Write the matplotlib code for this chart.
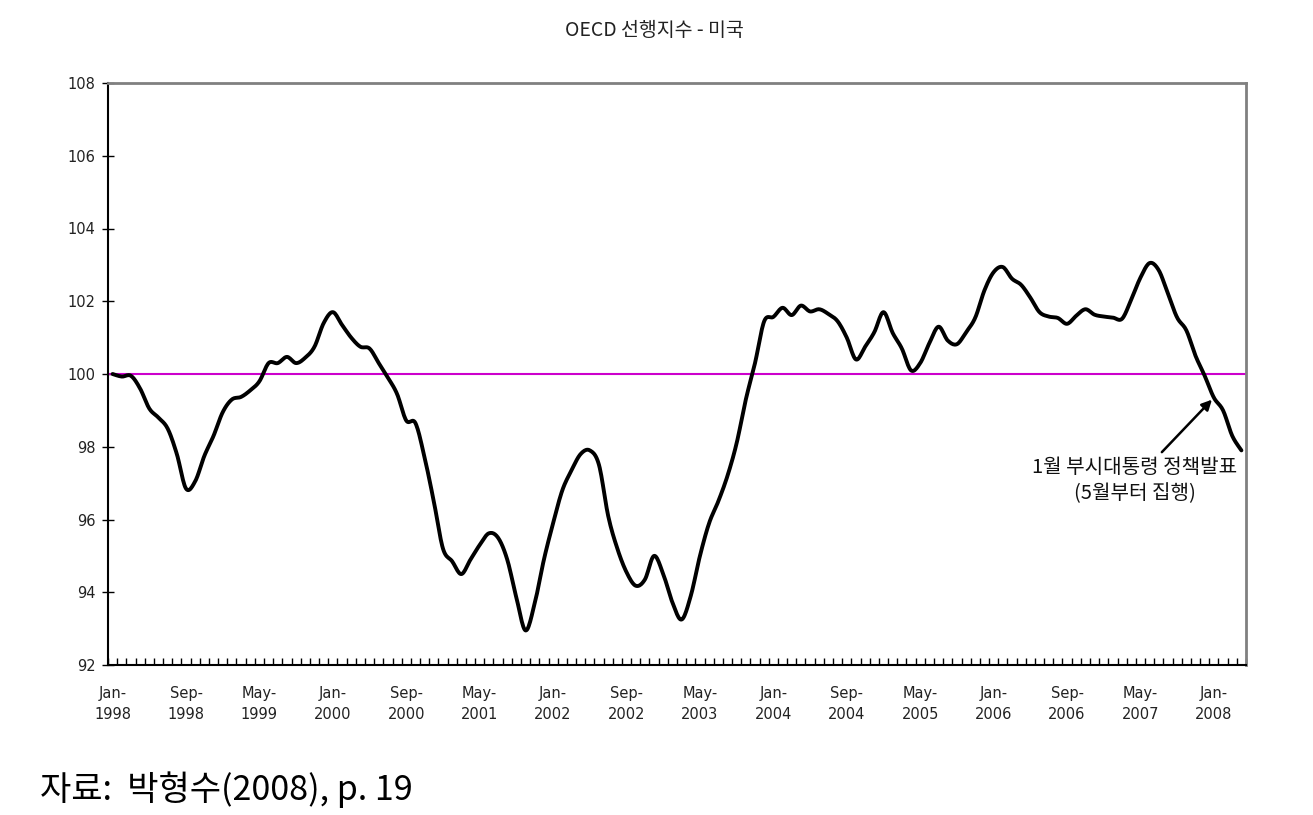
import numpy as np
import matplotlib
matplotlib.use("Agg")
import matplotlib.pyplot as plt

plt.rcParams['font.family'] = ['Noto Sans CJK KR', 'DejaVu Sans']

title = "OECD 선행지수 - 미국"
source_text = "자료:  박형수(2008), p. 19"
annot_text = "1월 부시대통령 정책발표\n(5월부터 집행)"

# Monthly values Jan 1998 .. Apr 2008
values = [
    100.0, 99.93, 99.95, 99.6, 99.05, 98.8, 98.5, 97.8, 96.85, 97.05,
    97.75, 98.3, 98.95, 99.3, 99.37, 99.55, 99.8, 100.3, 100.3, 100.47,
    100.3, 100.45, 100.75, 101.4, 101.7, 101.35, 101.0, 100.75, 100.7, 100.3,
    99.9, 99.45, 98.72, 98.65, 97.7, 96.5, 95.2, 94.85, 94.5, 94.9,
    95.3, 95.62, 95.5, 94.9, 93.85, 92.95, 93.7, 94.9, 95.9, 96.8,
    97.35, 97.8, 97.9, 97.5, 96.1, 95.2, 94.55, 94.18, 94.35, 95.0,
    94.5, 93.72, 93.25, 93.9, 95.0, 95.9, 96.5, 97.2, 98.1, 99.3,
    100.3, 101.45, 101.57, 101.82, 101.62, 101.88, 101.72, 101.78, 101.65, 101.45,
    101.0, 100.4, 100.75, 101.15, 101.7, 101.13, 100.7, 100.1, 100.3, 100.85,
    101.3, 100.92, 100.82, 101.15, 101.55, 102.3, 102.8, 102.94, 102.62, 102.45,
    102.1, 101.7, 101.58, 101.54, 101.38, 101.6, 101.78, 101.63, 101.58, 101.55,
    101.52, 102.05, 102.65, 103.05, 102.85, 102.2, 101.55, 101.2, 100.5, 99.95,
    99.35, 99.0, 98.3, 97.9,
]
tick_labels = ["Jan-\n1998", "Sep-\n1998", "May-\n1999", "Jan-\n2000", "Sep-\n2000",
               "May-\n2001", "Jan-\n2002", "Sep-\n2002", "May-\n2003", "Jan-\n2004",
               "Sep-\n2004", "May-\n2005", "Jan-\n2006", "Sep-\n2006", "May-\n2007",
               "Jan-\n2008"]
baseline = 100
annot_index = 120
annot_value = 99.35

n = len(values)
x = np.arange(n) + 0.5
y = np.array(values)

# Catmull-Rom smoothing (like Excel smoothed line)
def catmull_rom(px, py, steps=12):
    P = np.column_stack([px, py])
    P = np.vstack([P[0], P, P[-1]])
    out = []
    t = np.linspace(0, 1, steps, endpoint=False)
    for i in range(1, len(P) - 2):
        p0, p1, p2, p3 = P[i - 1], P[i], P[i + 1], P[i + 2]
        b1 = p1 + (p2 - p0) / 6
        b2 = p2 - (p3 - p1) / 6
        seg = ((1 - t)[:, None] ** 3 * p1 + 3 * ((1 - t) ** 2 * t)[:, None] * b1
               + 3 * ((1 - t) * t ** 2)[:, None] * b2 + (t ** 3)[:, None] * p2)
        out.append(seg)
    out.append(P[-2][None, :])
    out = np.vstack(out)
    return out[:, 0], out[:, 1]

sx, sy = catmull_rom(x, y)

fig = plt.figure(figsize=(13.13, 8.15), dpi=100)
ax = fig.add_axes([108 / 1313, 1 - 665 / 815, (1246 - 108) / 1313, (665 - 83) / 815])

ax.axhline(baseline, color='#CC00CC', lw=1.5, zorder=2)
ax.plot(sx, sy, color='black', lw=2.8, zorder=3, solid_capstyle='round')

ax.set_xlim(0, n)
ax.set_ylim(92, 108)
ax.set_yticks(np.arange(92, 109, 2))
ax.set_yticklabels([str(v) for v in range(92, 109, 2)], fontsize=10.5, family=['DejaVu Sans'],
                   color='#222222')

ax.set_xticks(np.arange(0, n + 1), minor=True)
ax.set_xticks(np.arange(0, n, 8) + 0.5)
ax.set_xticklabels(tick_labels, fontsize=10.5, family=['DejaVu Sans'], linespacing=1.55,
                   color='#222222')
ax.tick_params(axis='x', which='major', length=0, pad=15)
ax.tick_params(axis='x', which='minor', direction='in', length=5, width=1, color='black')
ax.tick_params(axis='y', direction='inout', length=8, width=1, pad=5)

for s in ['left', 'bottom']:
    ax.spines[s].set_color('black')
    ax.spines[s].set_linewidth(1.5)
for s in ['top', 'right']:
    ax.spines[s].set_color('#808080')
    ax.spines[s].set_linewidth(2)

ax.annotate(annot_text, xy=(annot_index + 0.5, annot_value), xytext=(111.9, 97.72),
            ha='center', va='top', fontsize=14.5, linespacing=1.3, color='#111111',
            arrowprops=dict(arrowstyle='-|>', color='black', lw=1.8, mutation_scale=15,
                            shrinkA=2, shrinkB=2))

fig.text(654 / 1313, 1 - 30 / 815, title, ha='center', va='center', fontsize=14,
         color='#222222')
fig.text(40 / 1313, 1 - 790 / 815, source_text, ha='left', va='center', fontsize=24.5)

fig.savefig('out.png', dpi=100, facecolor='white')
